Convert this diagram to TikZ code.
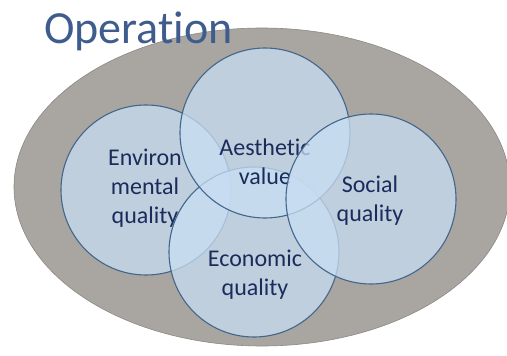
\documentclass[tikz,border=0pt]{standalone}
\usepackage{fontspec}
\setmainfont{Carlito}[Ligatures=NoCommon]
\usetikzlibrary{shapes.geometric,calc}
\definecolor{opgray}{RGB}{169,165,161}
\definecolor{opedge}{RGB}{140,136,132}
\definecolor{ringfill}{RGB}{200,222,242}
\definecolor{ringedge}{RGB}{66,102,140}
\definecolor{navytext}{RGB}{26,44,92}
\definecolor{titleblue}{RGB}{62,92,142}
\tikzset{
  ring/.style={circle, draw=ringedge, line width=1.1pt, fill=ringfill, fill opacity=0.75, draw opacity=1, minimum size=170pt, inner sep=0pt},
  ringtext/.style={text=navytext, align=center, font=\fontsize{24}{29}\selectfont}
}

\begin{document}
\begin{tikzpicture}[x=1pt, y=-1pt]
\useasboundingbox (0,0) rectangle (507,356);
\fill[white] (0,0) rectangle (507,356);

\coordinate (O) at (262,187);
\draw[fill=opgray, draw=opedge, line width=0.6pt] (O) ellipse [x radius=248, y radius=159]; %%Operation

\node[font=\fontsize{46}{46}\selectfont, text=titleblue, anchor=base west, inner sep=0pt] (title) at (44,43) {Operation};

\node[ring] (env) at (146,190) {};
\node[ringtext] (envtxt) at (145,188) {Environ\\mental\\quality};
\node[ring] (eco) at (254,252) {};
\node[ringtext] (ecotxt) at (255,275) {Economic\\quality};
\node[ring] (aes) at (265,133) {};
\node[ringtext] (aestxt) at (265,162) {Aesthetic\\value};
\node[ring] (soc) at (371,199) {};
\node[ringtext] (soctxt) at (370,201) {Social\\quality};
\end{tikzpicture}
\end{document}
